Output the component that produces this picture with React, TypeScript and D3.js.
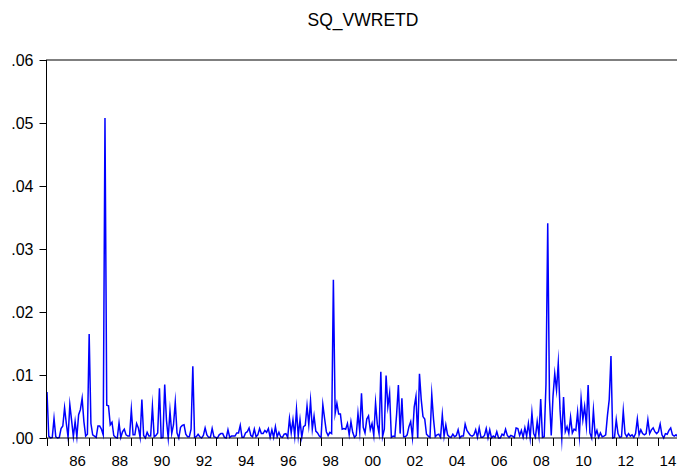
import React from "react";
import * as d3 from "d3";

// Squared monthly value-weighted returns, Jan 1985 .. Dec 2014
const sq1985to1989: number[] = [
  0.0073, 0.0003, 0.0000, 0.0001, 0.0031, 0.0002, 0.0000, 0.0001, 0.0015, 0.0019, 0.0048, 0.0023,
  0.0001, 0.0053, 0.0028, 0.0002, 0.0026, 0.0002, 0.0037, 0.0045, 0.0063, 0.0026, 0.0003, 0.0006,
  0.0165, 0.0023, 0.0005, 0.0003, 0.0001, 0.0019, 0.0019, 0.0014, 0.0005, 0.0508, 0.0052, 0.0051,
  0.0021, 0.0025, 0.0004, 0.0001, 0.0000, 0.0024, 0.0001, 0.0010, 0.0014, 0.0005, 0.0003, 0.0003,
  0.0045, 0.0005, 0.0005, 0.0023, 0.0016, 0.0001, 0.0061, 0.0004, 0.0000, 0.0009, 0.0003, 0.0003,
];
const sq1990to1994: number[] = [
  0.0050, 0.0002, 0.0004, 0.0008, 0.0079, 0.0000, 0.0001, 0.0085, 0.0028, 0.0000, 0.0043, 0.0007,
  0.0021, 0.0057, 0.0008, 0.0000, 0.0017, 0.0020, 0.0021, 0.0006, 0.0002, 0.0002, 0.0014, 0.0114,
  0.0001, 0.0002, 0.0006, 0.0002, 0.0000, 0.0004, 0.0016, 0.0005, 0.0001, 0.0001, 0.0015, 0.0002,
  0.0001, 0.0000, 0.0005, 0.0007, 0.0007, 0.0001, 0.0000, 0.0013, 0.0001, 0.0003, 0.0003, 0.0003,
  0.0008, 0.0008, 0.0020, 0.0001, 0.0001, 0.0008, 0.0010, 0.0016, 0.0004, 0.0002, 0.0014, 0.0002,
];
const sq1995to1999: number[] = [
  0.0005, 0.0015, 0.0007, 0.0007, 0.0012, 0.0009, 0.0015, 0.0001, 0.0013, 0.0001, 0.0018, 0.0002,
  0.0009, 0.0002, 0.0001, 0.0006, 0.0007, 0.0001, 0.0031, 0.0008, 0.0029, 0.0003, 0.0045, 0.0003,
  0.0029, 0.0001, 0.0018, 0.0020, 0.0051, 0.0021, 0.0059, 0.0014, 0.0035, 0.0011, 0.0008, 0.0003,
  0.0001, 0.0053, 0.0031, 0.0010, 0.0004, 0.0009, 0.0007, 0.0251, 0.0039, 0.0055, 0.0038, 0.0038,
  0.0014, 0.0015, 0.0014, 0.0023, 0.0005, 0.0026, 0.0009, 0.0001, 0.0004, 0.0039, 0.0010, 0.0071,
];
const sq2000to2004: number[] = [
  0.0017, 0.0008, 0.0030, 0.0035, 0.0013, 0.0023, 0.0004, 0.0056, 0.0022, 0.0007, 0.0105, 0.0002,
  0.0014, 0.0099, 0.0050, 0.0071, 0.0001, 0.0003, 0.0002, 0.0038, 0.0084, 0.0007, 0.0063, 0.0002,
  0.0002, 0.0005, 0.0018, 0.0026, 0.0001, 0.0049, 0.0066, 0.0000, 0.0102, 0.0061, 0.0034, 0.0030,
  0.0006, 0.0003, 0.0001, 0.0069, 0.0030, 0.0002, 0.0005, 0.0006, 0.0001, 0.0037, 0.0003, 0.0021,
  0.0005, 0.0002, 0.0001, 0.0006, 0.0002, 0.0004, 0.0013, 0.0000, 0.0003, 0.0003, 0.0022, 0.0012,
];
const sq2005to2009: number[] = [
  0.0008, 0.0004, 0.0003, 0.0005, 0.0013, 0.0001, 0.0016, 0.0001, 0.0001, 0.0004, 0.0015, 0.0000,
  0.0013, 0.0000, 0.0003, 0.0001, 0.0010, 0.0000, 0.0000, 0.0006, 0.0004, 0.0014, 0.0004, 0.0001,
  0.0004, 0.0003, 0.0001, 0.0016, 0.0015, 0.0004, 0.0012, 0.0001, 0.0016, 0.0003, 0.0023, 0.0000,
  0.0040, 0.0007, 0.0001, 0.0026, 0.0004, 0.0062, 0.0001, 0.0002, 0.0085, 0.0341, 0.0062, 0.0004,
  0.0066, 0.0102, 0.0076, 0.0119, 0.0045, 0.0000, 0.0065, 0.0010, 0.0018, 0.0007, 0.0033, 0.0008,
];
const sq2010to2014: number[] = [
  0.0014, 0.0012, 0.0041, 0.0004, 0.0062, 0.0029, 0.0050, 0.0020, 0.0084, 0.0008, 0.0000, 0.0044,
  0.0004, 0.0012, 0.0001, 0.0008, 0.0002, 0.0003, 0.0005, 0.0036, 0.0061, 0.0130, 0.0000, 0.0001,
  0.0029, 0.0007, 0.0001, 0.0002, 0.0043, 0.0007, 0.0002, 0.0007, 0.0003, 0.0005, 0.0001, 0.0007,
  0.0030, 0.0005, 0.0013, 0.0007, 0.0005, 0.0007, 0.0029, 0.0007, 0.0013, 0.0016, 0.0010, 0.0007,
  0.0010, 0.0022, 0.0005, 0.0000, 0.0007, 0.0006, 0.0012, 0.0016, 0.0005, 0.0003, 0.0005, 0.0002,
];

const startYear = 1985;
const endYear = 2015;
const yTicks: number[] = [0, 0.01, 0.02, 0.03, 0.04, 0.05, 0.06];
const yTickLabels: string[] = [".00", ".01", ".02", ".03", ".04", ".05", ".06"];
const xLabelYears: number[] = [1986, 1988, 1990, 1992, 1994, 1996, 1998, 2000, 2002, 2004, 2006, 2008, 2010, 2012, 2014];
const title = "SQ_VWRETD";

const W = 677;
const H = 469;
const left = 46.5;
const right = 679.5;
const top = 60;
const bottom = 438;

export default function App() {
  const values = [
    ...sq1985to1989,
    ...sq1990to1994,
    ...sq1995to1999,
    ...sq2000to2004,
    ...sq2005to2009,
    ...sq2010to2014,
  ];
  const data = values.map((v, i) => ({ t: startYear + i / 12, v }));

  const x = d3.scaleLinear().domain([startYear, endYear]).range([left + 0.5, right]);
  const y = d3.scaleLinear().domain([0, 0.06]).range([bottom, top]);

  const line = d3
    .line<{ t: number; v: number }>()
    .x((d) => x(d.t))
    .y((d) => y(d.v));

  const yearTicks = d3.range(startYear, endYear);
  const font = "'Liberation Sans', Arial, sans-serif";

  return (
    <svg
      width={W}
      height={H}
      style={{ position: "absolute", left: 0, top: 0, background: "#fff" }}
      fontFamily={font}
    >
      <rect x={0} y={0} width={W} height={H} fill="#fff" />
      <text x={(left + right) / 2} y={26} textAnchor="middle" fontSize={17.5} fill="#000">
        {title}
      </text>
      <path d={line(data) || ""} fill="none" stroke="#0000ff" strokeWidth={1.5} strokeLinejoin="miter" strokeMiterlimit={20} />
      {/* frame */}
      <rect x={left} y={top} width={right + 2 - left} height={bottom - top} fill="none" stroke="#000" strokeWidth={1} />
      {/* y ticks */}
      {yTicks.map((t, i) => (
        <g key={"y" + i}>
          <line x1={left - 7} x2={left} y1={Math.round(y(t)) + 0.5} y2={Math.round(y(t)) + 0.5} stroke="#000" />
          <text x={33.5} y={y(t) + 5.8} textAnchor="end" fontSize={16} fill="#000">
            {yTickLabels[i]}
          </text>
        </g>
      ))}
      {/* x ticks */}
      {yearTicks.map((yr) => (
        <line
          key={"x" + yr}
          x1={Math.round(x(yr)) + 0.5}
          x2={Math.round(x(yr)) + 0.5}
          y1={bottom}
          y2={bottom + 8}
          stroke="#000"
        />
      ))}
      {xLabelYears.map((yr) => (
        <text key={"xl" + yr} x={x(yr + 0.5) - 1} y={466} textAnchor="middle" fontSize={15} fill="#000">
          {String(yr % 100).padStart(2, "0")}
        </text>
      ))}
    </svg>
  );
}
